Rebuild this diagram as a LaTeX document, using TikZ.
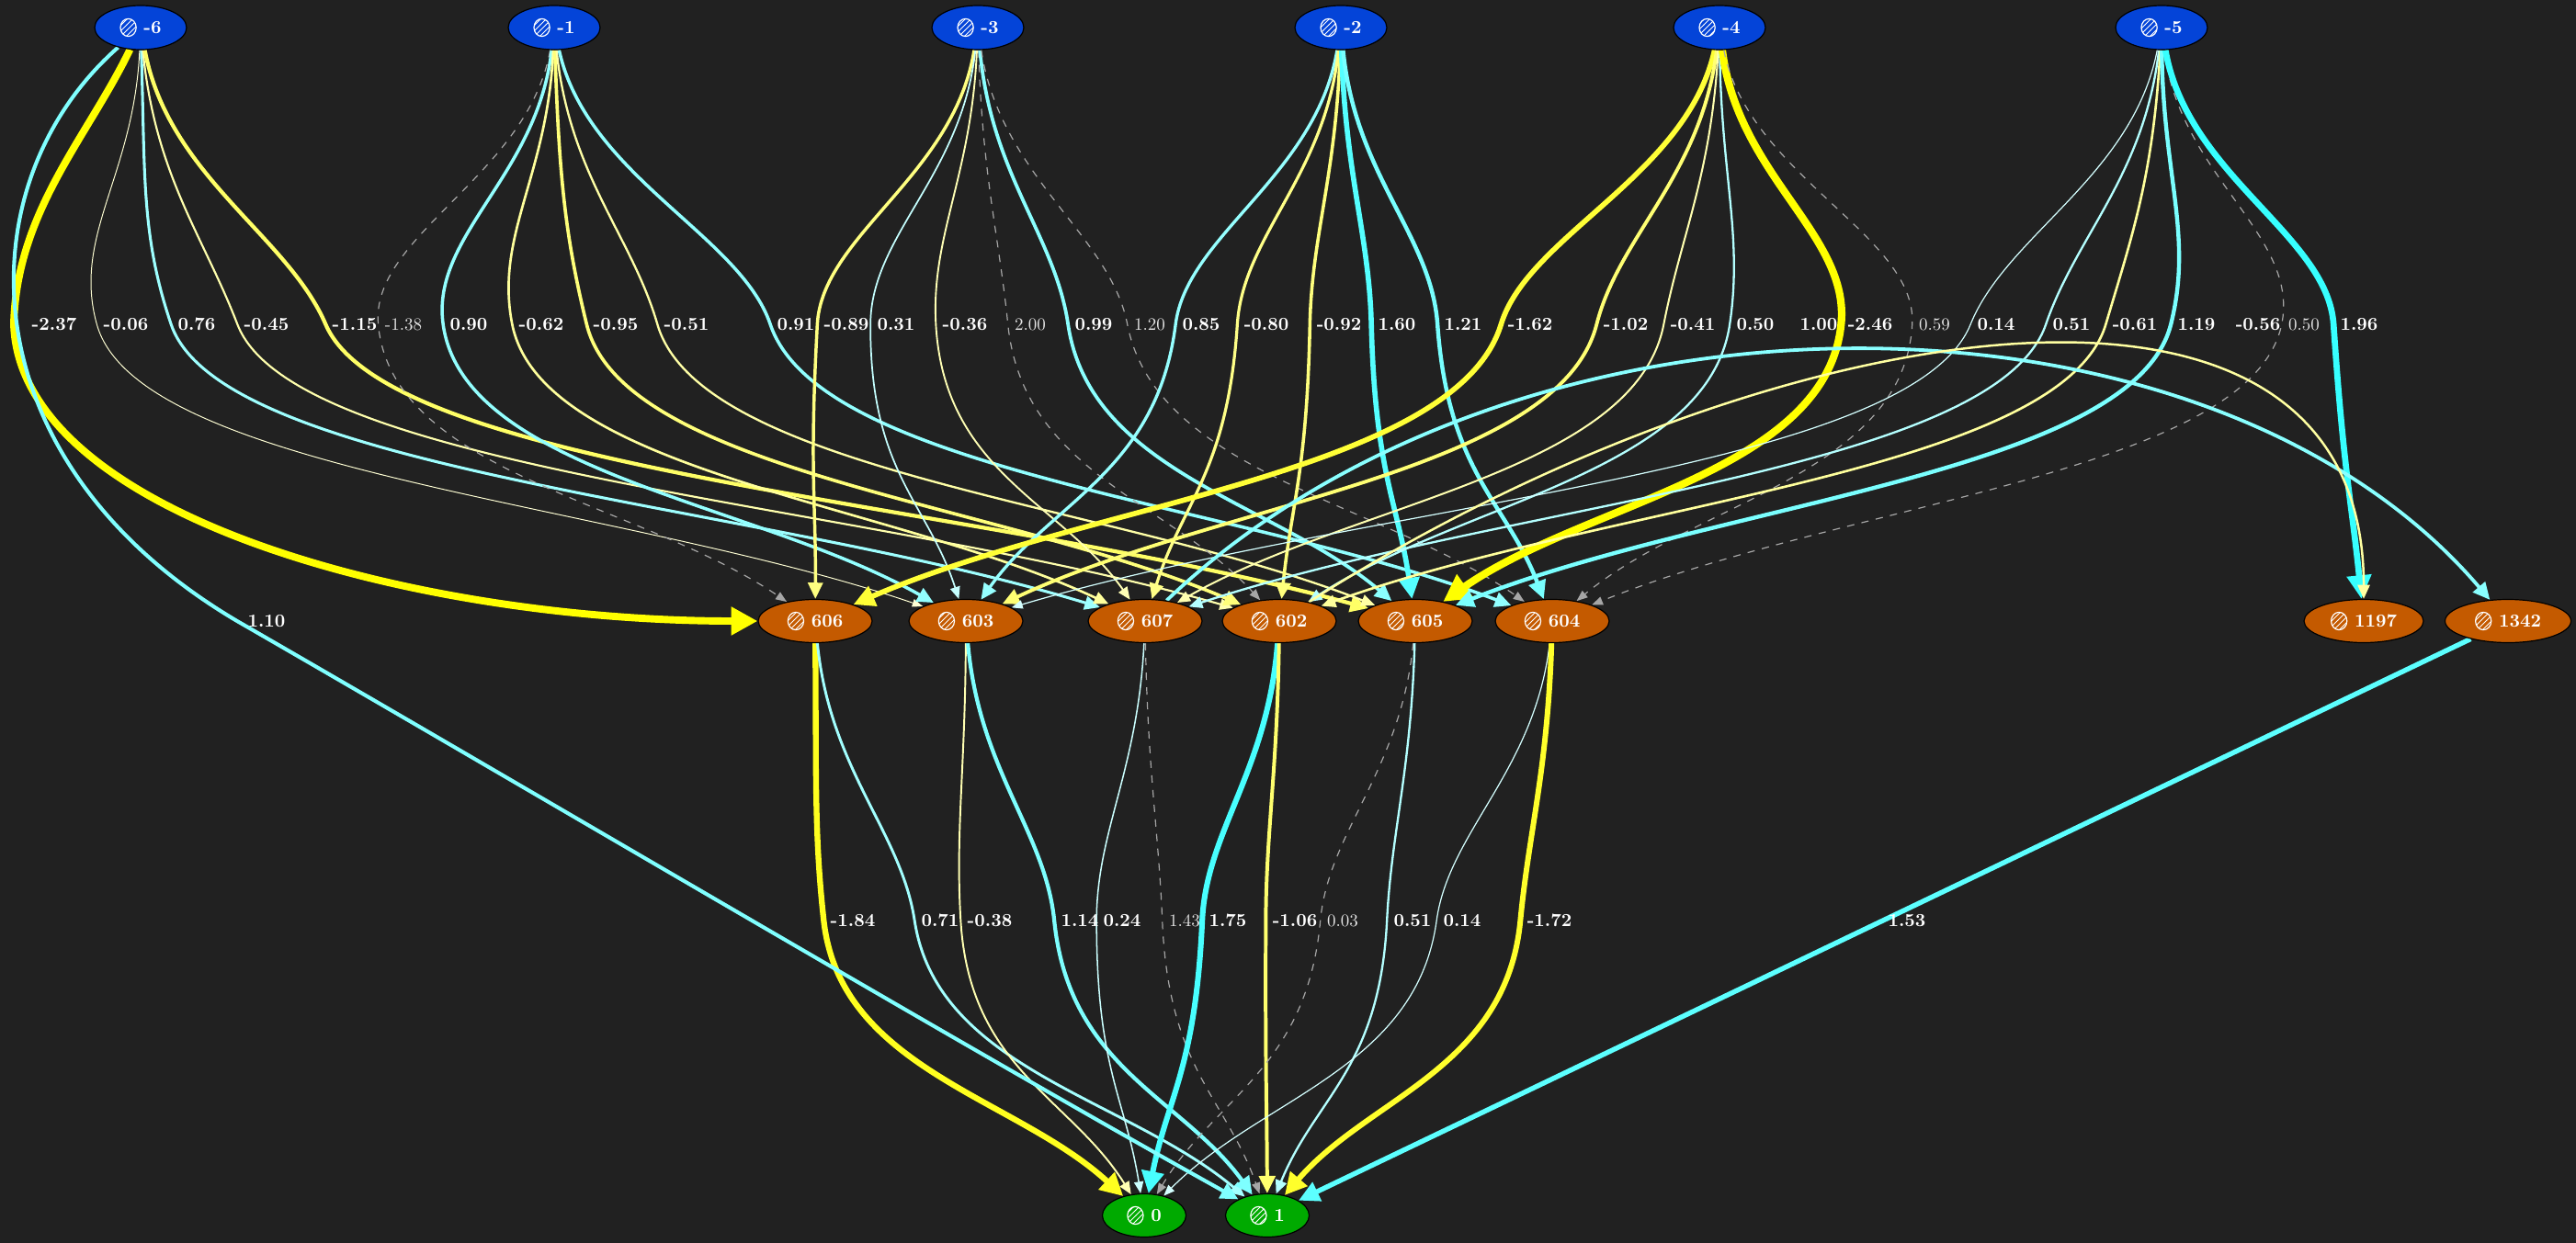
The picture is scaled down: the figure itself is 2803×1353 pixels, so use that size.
\documentclass[tikz,border=0pt]{standalone}
\usetikzlibrary{shapes.geometric, arrows.meta, calc, patterns}

\definecolor{bgc}{RGB}{33,33,33}
\definecolor{inblue}{RGB}{4,68,216}
\definecolor{hidorange}{RGB}{196,90,0}
\definecolor{outgreen}{RGB}{0,170,0}
\definecolor{aqua}{RGB}{40,255,255}
\definecolor{lemon}{RGB}{255,255,0}

\pgfdeclarelayer{bg}
\pgfdeclarelayer{wires}
\pgfsetlayers{bg,wires,main}

% small hatched mark in front of every node number
\newcommand\nicon{\tikz[baseline=-3.3pt]\draw[white, line width=0.6pt, pattern=north east lines, pattern color=white] (0,0) ellipse[x radius=4.3pt, y radius=4.8pt];}

% colour and width of a connection from its weight
\newcommand\setwire[1]{%
  \pgfmathsetmacro\lw{0.4+1.5*abs(#1)}%
  \pgfmathtruncatemacro\pc{min(100,15+40*abs(#1))}%
  \ifdim#1pt<0pt\def\hue{lemon}\else\def\hue{aqua}\fi
  \colorlet{wc}{\hue!\pc!white}%
  \tikzset{livewire/.style={draw=wc, line width=\lw pt, wiretip}}}

% source -> way point -> target
\newcommand\wire[4]{%
  \draw[#1] let \p1=(#2), \p2=(#3), \p3=(#4) in
    (#2) .. controls ({\x1+0.15*(\x2-\x1)}, {\y1+0.5*(\y2-\y1)})
         and ({\x2-0.03*(\x3-\x1)}, {\y2-0.15*(\y3-\y1)}) .. (#3)
         .. controls ({\x2+0.05*(\x3-\x1)}, {\y2+0.25*(\y3-\y1)})
         and ({\x3+0.4*(\x2-\x3)}, {\y3+0.4*(\y2-\y3)}) .. (#4);}

\tikzset{
  nodebase/.style={ellipse, draw=black, line width=0.6pt, text=white, inner sep=1pt, font=\bfseries\fontsize{10}{12}\selectfont},
  inp/.style={nodebase, fill=inblue, minimum width=50pt, minimum height=24pt},
  hid/.style={nodebase, fill=hidorange, minimum width=62pt, minimum height=23.5pt},
  outp/.style={nodebase, fill=outgreen, minimum width=45.5pt, minimum height=23.5pt},
  livelab/.style={text=white, inner sep=1pt, font=\bfseries\fontsize{10}{12}\selectfont},
  offlab/.style={text=white!80!gray, inner sep=1pt, font=\fontsize{9.5}{11}\selectfont},
  wiretip/.style={-{Triangle[length=4.5pt 2.5, width=2.8pt 3]}},
  offwire/.style={draw=gray!70!white, line width=0.6pt, dash pattern=on 4pt off 4pt, wiretip}
}

\def\wirelist{
  in6/h603/-0.06/137/353/live, in6/h607/0.76/214/353/live, in6/h602/-0.45/290/353/live,
  in6/h605/-1.15/386/353/live, in1/h606/-1.38/439/353/off, in1/h603/0.90/510/353/live,
  in1/h607/-0.62/589/353/live, in1/h602/-0.95/670/353/live, in1/h605/-0.51/747/353/live,
  in1/h604/0.91/866/353/live, in3/h606/-0.89/921/353/live, in3/h603/0.31/975/353/live,
  in3/h607/-0.36/1050/353/live, in3/h602/2.00/1121/353/off, in3/h605/0.99/1190/353/live,
  in3/h604/1.20/1251/353/off, in2/h603/0.85/1307/353/live, in2/h607/-0.80/1378/353/live,
  in2/h602/-0.92/1457/353/live, in2/h605/1.60/1520/353/live, in2/h604/1.21/1592/353/live,
  in4/h606/-1.62/1665/353/live, in4/h603/-1.02/1769/353/live, in4/h607/-0.41/1842/353/live,
  in4/h602/0.50/1910/353/live, in4/h605/-2.46/2035/353/live, in4/h604/0.59/2105/353/off,
  in5/h603/0.14/2172/353/live, in5/h607/0.51/2254/353/live, in5/h602/-0.61/2323/353/live,
  in5/h605/1.19/2390/353/live, in5/h604/0.50/2507/353/off, in5/h1197/1.96/2567/353/live,
  h606/o0/-1.84/928/1002/live, h606/o1/0.71/1023/1002/live, h603/o0/-0.38/1077/1002/live,
  h603/o1/1.14/1175/1002/live, h607/o0/0.24/1221/1002/live, h607/o1/1.43/1289/1002/off,
  h602/o0/1.75/1336/1002/live, h602/o1/-1.06/1409/1002/live, h605/o0/0.03/1461/1002/off,
  h605/o1/0.51/1537/1002/live, h604/o0/0.14/1591/1002/live, h604/o1/-1.72/1686/1002/live}

\begin{document}
\begin{tikzpicture}[x=0.5pt, y=-0.5pt]
    % Canvas
    \useasboundingbox (0,0) rectangle (2803,1353);
    \begin{pgfonlayer}{bg}
        \fill[bgc] (0,0) rectangle (2803,1353);
    \end{pgfonlayer}
    %%%
    %%% Nodes
    %%%
    \foreach \n/\x in {6/153, 1/603, 3/1064, 2/1459, 4/1871, 5/2352}
    {
        \node[inp] (in\n) at (\x,30) {\nicon\ -\n};
    }
    \foreach \n/\x in {606/887, 603/1051, 607/1246, 602/1392, 605/1540, 604/1689}
    {
        \node[hid] (h\n) at (\x,676) {\nicon\ \n};
    }
    \node[hid, minimum width=65pt] (h1197) at (2572,676) {\nicon\ 1197};
    \node[hid, minimum width=68.5pt] (h1342) at (2729,676) {\nicon\ 1342};
    \foreach \n/\x in {0/1245, 1/1379}
    {
        \node[outp] (o\n) at (\x,1323) {\nicon\ \n};
    }
    %%%
    %%% Weight labels
    %%%
    \foreach \s/\t/\w/\lx/\ly/\k in \wirelist
    {
        \node[\k lab] (w\s\t) at (\lx,\ly) {\w};
        \coordinate (v\s\t) at ($(w\s\t.west)+(-5,0)$);
    }
    \node[livelab] (win6h606) at (59,353) {-2.37};
    \coordinate (vin6h606) at (15,353);
    \node[livelab] (win6o1) at (290,676) {1.10};
    \coordinate (vin6o1) at (258,676);
    \node[livelab] (wh607h1342) at (1979,353) {1.00};
    \node[livelab] (wh602h1197) at (2457,353) {-0.56};
    \node[livelab] (wh1342o1) at (2075,1002) {1.53};
    %%%
    %%% Connections
    %%%
    \begin{pgfonlayer}{wires}
        \foreach \s/\t/\w/\lx/\ly/\k in \wirelist
        {
            \setwire{\w}
            \wire{\k wire}{\s}{v\s\t}{\t}
        }
        % -6 round the left side
        \setwire{-2.37}
        \draw[livewire] (in6) .. controls (95,150) and (18,230) .. (vin6h606) .. controls (22,560) and (450,676) .. (h606);
        \setwire{1.10}
        \draw[livewire] (in6) .. controls (-40,200) and (-40,500) .. (vin6o1) .. controls (560,850) and (1050,1140) .. (o1);
        % arcs inside the hidden row
        \setwire{1.00}
        \draw[livewire] (h607) .. controls (1650,290) and (2400,290) .. (h1342);
        \setwire{-0.56}
        \draw[livewire] (h602) .. controls (1900,350) and (2572,220) .. (h1197);
        % 1342 straight down to the output
        \setwire{1.53}
        \draw[livewire] (h1342) -- (o1);
    \end{pgfonlayer}
\end{tikzpicture}
\end{document}
